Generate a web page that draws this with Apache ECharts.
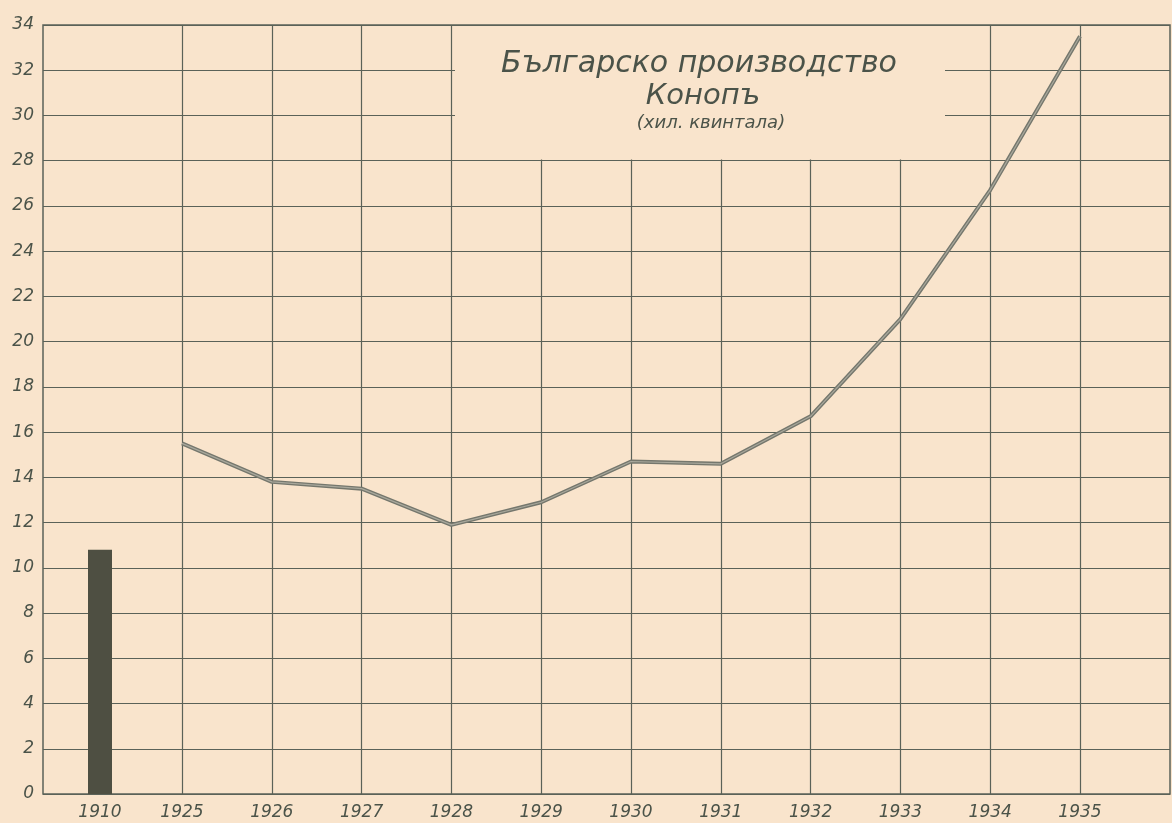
<!DOCTYPE html>
<html>
<head>
<meta charset="utf-8">
<script src="https://cdn.jsdelivr.net/npm/echarts@6/dist/echarts.min.js"></script>
<style>
  html, body { margin: 0; padding: 0; background: #f9e4cc; }
  #chart { width: 1172px; height: 823px; }
</style>
</head>
<body>
<div id="chart"></div>
<script>
// ---- data ----
const barYears = ['1910'];
const barValues = [10.8];
const lineYears = ['1925', '1926', '1927', '1928', '1929', '1930', '1931', '1932', '1933', '1934', '1935'];
const lineValues = [15.5, 13.8, 13.5, 11.9, 12.9, 14.7, 14.6, 16.7, 21.0, 26.7, 33.5];
const titleLines = ['Българско производство', 'Конопъ', '(хил. квинтала)'];

// ---- style ----
const paper = '#f9e4cc';
const ink = '#5b6258';
const textInk = '#4b5349';
const labelFont = { fontFamily: 'DejaVu Sans', fontStyle: 'italic', fontSize: 17, color: textInk };
const titleFont = { fontFamily: 'DejaVu Sans', fontStyle: 'italic', fontWeight: 'normal', color: textInk };

const TOP = 25, BOTTOM = 29;

const chart = echarts.init(document.getElementById('chart'), null, { renderer: 'canvas' });
chart.setOption({
  backgroundColor: paper,
  animation: false,
  title: [
    { text: titleLines[0], left: 694, top: 44, textAlign: 'center',
      textStyle: Object.assign({ fontSize: 30 }, titleFont) },
    { text: titleLines[1], left: 698, top: 77, textAlign: 'center',
      textStyle: Object.assign({ fontSize: 29 }, titleFont) },
    { text: titleLines[2], left: 706, top: 109, textAlign: 'center',
      textStyle: Object.assign({ fontSize: 18 }, titleFont) }
  ],
  graphic: [
    { type: 'rect', z: 5, silent: true,
      shape: { x: 455, y: 26, width: 490, height: 133.5 },
      style: { fill: paper } }
  ],
  grid: [
    { left: 43, right: 2, top: TOP, bottom: BOTTOM, show: true, borderColor: ink, borderWidth: 1.5, backgroundColor: 'transparent' },
    { left: 43, width: 114, top: TOP, bottom: BOTTOM },
    { left: 182, right: 92, top: TOP, bottom: BOTTOM }
  ],
  xAxis: [
    { gridIndex: 0, type: 'value', min: 0, max: 1, show: false },
    { gridIndex: 1, type: 'category', data: barYears, boundaryGap: true,
      axisLine: { show: false }, axisTick: { show: false }, splitLine: { show: false },
      axisLabel: Object.assign({ margin: 10, interval: 0 }, labelFont) },
    { gridIndex: 2, type: 'category', data: lineYears, boundaryGap: false,
      axisLine: { show: false }, axisTick: { show: false },
      splitLine: { show: true, interval: 0, lineStyle: { color: ink, width: 1.2 } },
      axisLabel: Object.assign({ margin: 10, interval: 0 }, labelFont) }
  ],
  yAxis: [
    { gridIndex: 0, type: 'value', min: 0, max: 34, interval: 2,
      axisLine: { show: false }, axisTick: { show: false },
      splitLine: { show: true, lineStyle: { color: ink, width: 1.2 } },
      axisLabel: Object.assign({ margin: 9, verticalAlign: 'middle', padding: [0, 0, 12, 0] }, labelFont) },
    { gridIndex: 1, type: 'value', min: 0, max: 34, show: false },
    { gridIndex: 2, type: 'value', min: 0, max: 34, show: false }
  ],
  series: [
    { type: 'bar', xAxisIndex: 1, yAxisIndex: 1, data: barValues, barWidth: 24,
      itemStyle: { color: '#4e4f42' }, z: 3 },
    { type: 'line', xAxisIndex: 2, yAxisIndex: 2, data: lineValues, symbol: 'none',
      lineStyle: { color: '#75776d', width: 4 }, z: 4 },
    { type: 'line', xAxisIndex: 2, yAxisIndex: 2, data: lineValues, symbol: 'none',
      lineStyle: { color: '#a9a89c', width: 1.2 }, z: 4 }
  ]
});
</script>
</body>
</html>
